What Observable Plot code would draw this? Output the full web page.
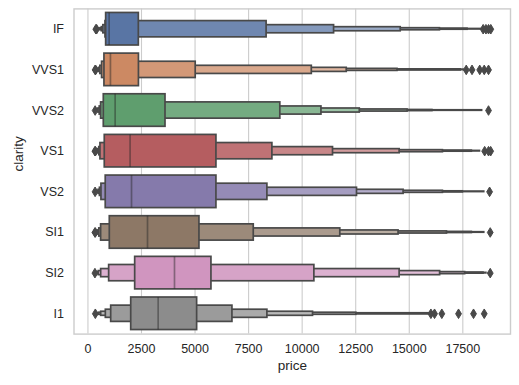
<!DOCTYPE html>
<html><head><meta charset="utf-8">
<script src="https://cdn.jsdelivr.net/npm/d3@7"></script>
<script src="https://cdn.jsdelivr.net/npm/@observablehq/plot@0.6"></script>
<style>body{margin:0;background:#fff}</style>
</head><body><div id="chart"></div>
<script>
const clarity = ["IF","VVS1","VVS2","VS1","VS2","SI1","SI2","I1"];
const baseColors = ["#5975a4","#cc8963","#5f9e6e","#b55d60","#857aab","#8d7866","#d095bf","#8c8c8c"];
const medians = [990, 1050, 1270, 1967, 2034, 2780, 4040, 3278];
// letter values, level 0 = quartiles, then eighths, sixteenths, ...
const lowerValues = [
  [850, 820, 720, 650, 590, 540, 480],
  [770, 660, 580, 520, 470, 430, 400],
  [740, 615, 550, 490, 440, 400, 380],
  [785, 584, 530, 480, 440, 410, 390],
  [830, 630, 560, 500, 450, 410, 390],
  [1020, 615, 530, 470, 430, 400, 380],
  [2205, 990, 617, 505, 450, 410, 380],
  [2020, 1085, 835, 617, 520, 450, 400]
];
const upperValues = [
  [2375, 8340, 11490, 14600, 16430, 17720, 18380],
  [2380, 5030, 10450, 12080, 14450, 17400, 17560],
  [3620, 8980, 10900, 12690, 14920, 16080, 18400],
  [5998, 8610, 11440, 14550, 16570, 17920, 18300],
  [5998, 8377, 12560, 14735, 16570, 17500, 18500],
  [5205, 7740, 11780, 14500, 16760, 17920, 18500],
  [5765, 10570, 14550, 16440, 17610, 18465, 18600],
  [5097, 6745, 8377, 10507, 12530, 15990, 16000]
];
const outliers = [
  [369, 405, 18450, 18580, 18700, 18806],
  [336, 360, 17660, 17930, 18290, 18500, 18700],
  [336, 18700],
  [327, 350, 18520, 18700, 18800],
  [334, 18750],
  [326, 345, 18780],
  [326, 18780],
  [345, 16010, 16180, 16520, 17300, 18000, 18500]
];
const xTicks = [0, 2500, 5000, 7500, 10000, 12500, 15000, 17500];

const gray = "#494949";
const boxes = [];
clarity.forEach((c, i) => {
  lowerValues[i].forEach((lo, L) => {
    const w = 0.8 / Math.pow(2, L);
    boxes.push({i, L, x1: lo, x2: upperValues[i][L], y1: i - w/2, y2: i + w/2,
      color: d3.interpolateRgb(baseColors[i], "#ffffff")(Math.min(0.13 * L, 0.9))});
  });
});
boxes.sort((a, b) => b.L - a.L);
const medRows = medians.map((m, i) => ({i, x: m}));
const outRows = [];
outliers.forEach((arr, i) => arr.forEach(v => outRows.push({i, x: v})));

const thinDiamond = {draw(ctx) {
  const h = 4.8, w = 2.9;
  ctx.moveTo(0, -h); ctx.lineTo(w, 0); ctx.lineTo(0, h); ctx.lineTo(-w, 0); ctx.closePath();
}};

const chart = Plot.plot({
  width: 519, height: 385,
  marginLeft: 73.5, marginRight: 9, marginTop: 8.4, marginBottom: 51.4,
  style: {fontFamily: "'Liberation Sans', Arial, sans-serif", fontSize: "12.5px", color: "#262626", background: "#fff"},
  x: {domain: [-651, 19726], axis: null},
  y: {domain: [-0.5, 7.5], reverse: true, axis: null},
  color: {type: "identity"},
  marks: [
    Plot.gridX(xTicks, {stroke: "#cccccc", strokeOpacity: 1, strokeWidth: 1.1}),
    Plot.frame({stroke: "#cccccc", strokeWidth: 1.4}),
    Plot.axisX(xTicks, {tickSize: 0, tickPadding: 10, tickFormat: d => String(d), label: null}),
    Plot.axisY(d3.range(clarity.length), {tickSize: 0, tickPadding: 10, tickFormat: i => clarity[i], label: null}),
    Plot.rect(boxes, {x1: "x1", x2: "x2", y1: "y1", y2: "y2", fill: "color", stroke: gray, strokeWidth: 1.7}),
    Plot.ruleX(medRows, {x: "x", y1: d => d.i - 0.4, y2: d => d.i + 0.4, stroke: "#262626", strokeOpacity: 0.45, strokeWidth: 1.7}),
    Plot.dot(outRows, {x: "x", y: "i", symbol: thinDiamond, r: 3, fill: gray, stroke: gray, strokeWidth: 1}),
    Plot.text(["price"], {frameAnchor: "bottom", dy: 35.5, text: d => d, fontSize: 13.5, fill: "#262626"}),
    Plot.text(["clarity"], {frameAnchor: "left", dx: -55, rotate: -90, text: d => d, fontSize: 13.5, fill: "#262626"})
  ]
});
document.getElementById("chart").appendChild(chart);
</script>
</body></html>
